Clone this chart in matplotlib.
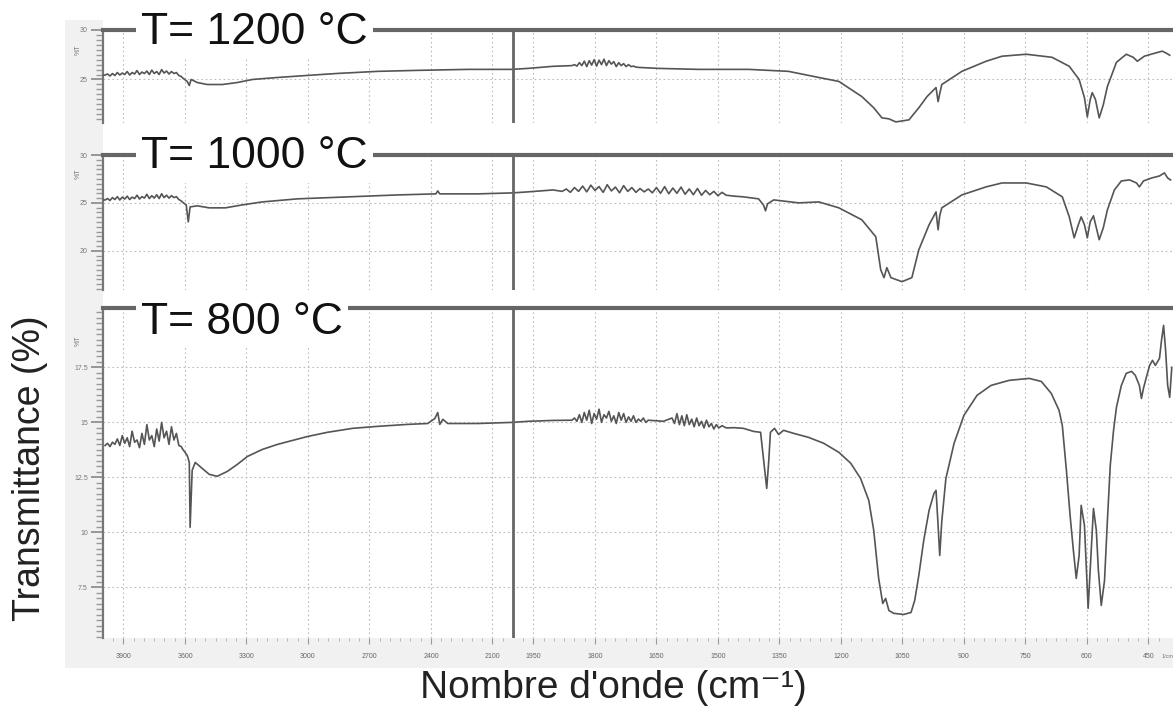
import numpy as np
import matplotlib.pyplot as plt
from matplotlib.ticker import FixedLocator, MultipleLocator
from matplotlib.patches import Rectangle

plt.rcParams['font.family'] = ['Liberation Sans', 'DejaVu Sans']

# wavenumber grids of the noisy stretches (cm-1)
wn_noise_left = [3990, 3978, 3966, 3954, 3942, 3930, 3918, 3906, 3894, 3882, 3870, 3858, 3846, 3834,
                 3822, 3810, 3798, 3786, 3774, 3762, 3750, 3738, 3726, 3714, 3702, 3690, 3678, 3666,
                 3654, 3642, 3630, 3618]
wn_noise_a = [1856, 1850, 1844, 1838, 1832, 1826, 1820, 1814, 1808, 1802, 1796, 1790, 1784, 1778,
              1772, 1766, 1760, 1754, 1748, 1742, 1736, 1730, 1724, 1718, 1712, 1706, 1700, 1694,
              1688, 1682, 1676, 1670]
wn_noise_b = [1612, 1606, 1600, 1594, 1588, 1582, 1576, 1570, 1564, 1558, 1552, 1546, 1540, 1534,
              1528, 1522, 1516, 1510, 1504, 1498, 1490, 1480]
wn_noise_1000 = [1880, 1870, 1860, 1850, 1840, 1830, 1820, 1810, 1800, 1790, 1780, 1770, 1760, 1750,
                 1740, 1730, 1720, 1710, 1700, 1690, 1680, 1670, 1660, 1650, 1640, 1630, 1620, 1610,
                 1600, 1590, 1580, 1570, 1560, 1550, 1540, 1530, 1520, 1510, 1500, 1490, 1480]

# T = 1200 C
wn_1200 = ([4000] + wn_noise_left +
           [3614, 3589, 3579, 3570, 3540, 3491, 3418, 3345, 3271, 3149, 3002, 2856, 2660, 2464,
            2220, 2005, 1963, 1902] + wn_noise_a[:27] +
           [1694, 1646, 1548, 1425, 1328, 1254, 1205, 1149, 1120, 1100, 1083, 1066, 1034, 1010,
            990, 973, 968, 963, 959, 954, 905, 846, 807, 748, 685, 643, 619, 606, 599, 592, 587,
            579, 570, 560, 550, 528, 504, 487, 477, 460, 435, 416, 406, 398])
t_1200 = ([25.41] +
          [25.45, 25.55, 25.35, 25.6, 25.4, 25.7, 25.45, 25.65, 25.5, 25.8, 25.45, 25.7, 25.55, 25.9,
           25.5, 25.75, 25.6, 25.85, 25.5, 25.95, 25.6, 25.8, 25.5, 26.0, 25.65, 25.85, 25.55, 25.8,
           25.6, 25.7, 25.4, 25.3] +
          [25.2, 24.8, 24.39, 25.0, 24.69, 24.49, 24.49, 24.69, 25.0, 25.2, 25.41, 25.61, 25.82, 25.92,
           26.02, 26.02, 26.12, 26.33] +
          [26.4, 26.5, 26.35, 26.7, 26.4, 26.85, 26.3, 26.9, 26.45, 27.0, 26.35, 26.95, 26.5, 27.05,
           26.4, 26.9, 26.55, 26.8, 26.3, 26.7, 26.4, 26.6, 26.3, 26.5, 26.3, 26.35, 26.25] +
          [26.22, 26.12, 26.02, 26.02, 25.82, 25.2, 24.8, 23.27, 22.14, 21.12, 21.02, 20.71, 20.92, 22.14,
           23.27, 23.98, 24.18, 22.76, 23.57, 24.49, 25.82, 26.84, 27.35, 27.55, 27.24, 26.33, 25.0, 23.16,
           21.22, 22.96, 23.67, 22.96, 21.12, 22.45, 24.29, 26.73, 27.55, 27.24, 26.84, 27.35, 27.65, 27.86,
           27.65, 27.45])

# T = 1000 C
wn_1000 = ([4000] + wn_noise_left +
           [3614, 3594, 3584, 3575, 3540, 3482, 3403, 3320, 3223, 3051, 2807, 2562, 2376, 2367,
            2357, 2171, 2005, 1963, 1902] + wn_noise_1000 +
           [1460, 1438, 1401, 1389, 1384, 1379, 1364, 1303, 1254, 1205] +
           [1149, 1115, 1103, 1095, 1088, 1078, 1051, 1027, 1010, 985, 968, 963, 959, 954, 905, 846,
            807, 748, 699, 660, 643, 631, 621, 614, 606, 599, 592, 584, 577, 570, 560, 550, 533, 516,
            496, 479, 472, 462, 442, 423, 411, 403, 396])
t_1000 = ([25.31] +
          [25.3, 25.45, 25.25, 25.55, 25.35, 25.65, 25.3, 25.6, 25.4, 25.7, 25.35, 25.6, 25.45, 25.8,
           25.4, 25.65, 25.5, 25.9, 25.45, 25.75, 25.5, 25.85, 25.45, 25.95, 25.55, 25.8, 25.5, 25.75,
           25.55, 25.65, 25.35, 25.2] +
          [25.1, 24.79, 23.02, 24.58, 24.69, 24.48, 24.48, 24.79, 25.1, 25.42, 25.63, 25.83, 25.94, 26.25,
           25.94, 25.94, 26.04, 26.15, 26.35] +
          [26.2, 26.45, 26.1, 26.6, 26.2, 26.75, 26.15, 26.85, 26.3, 26.7, 26.1, 26.9, 26.25, 26.65,
           26.05, 26.8, 26.2, 26.6, 26.1, 26.5, 26.15, 26.45, 26.05, 26.6, 26.0, 26.7, 25.95, 26.55,
           26.0, 26.65, 25.9, 26.45, 25.85, 26.5, 25.8, 26.3, 25.85, 26.2, 25.75, 26.1, 25.8] +
          [25.7, 25.63, 25.42, 24.79, 24.17, 24.9, 25.31, 25.0, 25.1, 24.48] +
          [23.23, 21.46, 18.02, 17.19, 18.23, 17.19, 16.77, 17.19, 20.1, 22.71, 24.06, 22.19, 23.65, 24.48,
           25.83, 26.67, 27.08, 27.08, 26.67, 25.63, 23.54, 21.35, 22.71, 23.54, 22.71, 21.35, 23.02, 23.65,
           22.4, 21.15, 22.4, 24.27, 26.35, 27.29, 27.4, 27.08, 26.67, 27.29, 27.6, 27.81, 28.13, 27.6, 27.4])

# T = 800 C
wn_800 = (wn_noise_left +
          [3614, 3589, 3579, 3575, 3565, 3550, 3516, 3482, 3443, 3394, 3345, 3296, 3223, 3149, 3076,
           3002, 2905, 2782, 2660, 2513, 2416, 2381, 2367, 2357, 2342, 2318, 2171, 2005, 1963, 1902] +
          wn_noise_a + [1633] + wn_noise_b +
          [1460, 1438, 1413, 1396, 1386, 1381, 1376, 1372, 1362, 1352, 1340, 1315, 1279, 1242, 1205] +
          [1176, 1152, 1132, 1120, 1108, 1098, 1091, 1083, 1071, 1047, 1029, 1020, 1010, 998, 985, 973,
           968, 963, 959, 954, 944, 924, 900, 868, 834, 790, 741, 711, 687, 668, 660, 650, 641, 633, 626,
           619, 614, 606, 601, 597, 592, 584, 577, 572, 565, 557, 550, 543, 535, 528, 516, 504, 491, 482,
           472, 467, 462, 455, 447, 440, 433, 423, 418, 413, 408, 403, 398, 393])
t_800 = ([13.95, 14.05, 13.9, 14.1, 14.0, 14.25, 13.95, 14.4, 14.05, 14.3, 13.9, 14.6, 14.1, 14.2,
          13.85, 14.5, 14.0, 14.9, 14.2, 14.4, 13.9, 14.7, 14.15, 15.0, 14.3, 14.6, 14.0, 14.8,
          14.2, 14.5, 13.95, 13.9] +
         [13.82, 13.5, 13.18, 10.23, 12.82, 13.18, 12.91, 12.64, 12.55, 12.77, 13.09, 13.45, 13.77, 14.0,
          14.18, 14.36, 14.55, 14.73, 14.82, 14.91, 14.95, 15.18, 15.45, 14.91, 15.14, 14.95, 14.95, 15.0,
          15.05, 15.09] +
         [15.1, 15.2, 15.05, 15.35, 15.0, 15.45, 15.1, 15.55, 14.95, 15.4, 15.15, 15.6, 15.0, 15.35,
          15.2, 15.5, 15.05, 15.3, 14.95, 15.45, 15.1, 15.4, 15.0, 15.25, 15.05, 15.3, 15.0, 15.15,
          15.05, 15.2, 15.0, 15.1] +
         [15.05] +
         [15.2, 14.95, 15.4, 14.9, 15.3, 14.85, 15.35, 14.9, 15.15, 14.8, 15.2, 14.85, 15.05, 14.75,
          15.1, 14.8, 14.95, 14.7, 14.9, 14.75, 14.85, 14.75] +
         [14.76, 14.73, 14.59, 14.55, 12.82, 12.0, 13.27, 14.55, 14.73, 14.45, 14.64, 14.5, 14.32, 14.05,
          13.64] +
         [13.14, 12.45, 11.45, 10.09, 7.91, 6.77, 7.0, 6.45, 6.32, 6.27, 6.36, 6.91, 8.05, 9.64, 11.0,
          11.77, 11.91, 10.32, 8.95, 10.5, 12.45, 14.05, 15.32, 16.23, 16.68, 16.91, 17.0, 16.86, 16.32,
          15.55, 14.86, 12.82, 10.77, 9.18, 7.91, 8.95, 11.23, 10.32, 8.27, 6.55, 8.27, 11.09, 10.09, 8.27,
          6.68, 7.82, 10.55, 13.05, 14.64, 15.68, 16.68, 17.23, 17.32, 17.14, 16.68, 16.09, 16.55, 17.05,
          17.59, 17.82, 17.59, 17.91, 18.73, 19.41, 18.27, 16.68, 16.14, 17.5])

titles = ["T= 1200 \u00b0C", "T= 1000 \u00b0C", "T= 800 \u00b0C"]
x_ticks = [3900, 3600, 3300, 3000, 2700, 2400, 2100, 1950, 1800, 1650, 1500, 1350,
           1200, 1050, 900, 750, 600, 450]
y_ticks_1200 = [25, 30]
y_ticks_1000 = [20, 25, 30]
y_ticks_800 = [7.5, 10, 12.5, 15, 17.5]

W, H = 1173, 710


def fwd(w):
    w = np.asarray(w, dtype=float)
    return np.where(w <= 2000, w, 2000 + (w - 2000) / 2)


def inv(u):
    u = np.asarray(u, dtype=float)
    return np.where(u <= 2000, u, 2000 + (u - 2000) * 2)


fig = plt.figure(figsize=(W / 100, H / 100), dpi=100)

# grey frame around the instrument plot
fig.patches.append(Rectangle((65 / W, 1 - 668 / H), 38 / W, 648 / H, transform=fig.transFigure,
                             fc='#f1f1f1', ec='none', zorder=-5))
fig.patches.append(Rectangle((65 / W, 1 - 668 / H), 1108 / W, 30 / H, transform=fig.transFigure,
                             fc='#f1f1f1', ec='none', zorder=-5))

panels = [
    # (top px, bottom px, ylim, ticks, minor, data, title, title y px, %T value)
    (30, 123, (20.6, 30), y_ticks_1200, 0.5, wn_1200, t_1200, titles[0], 32, 28.0),
    (155, 290, (15.9, 30), y_ticks_1000, 0.5, wn_1000, t_1000, titles[1], 157, 28.0),
    (308, 638, (5.2, 20.2), y_ticks_800, 0.25, wn_800, t_800, titles[2], 322, 18.7),
]

left = 103
for i, (top, bot, ylim, yt, ymin, wn, tt, title, ty, pct) in enumerate(panels):
    ax = fig.add_axes([left / W, 1 - bot / H, (W - left) / W, (bot - top) / H])
    ax.set_xscale('function', functions=(fwd, inv))
    ax.set_xlim(4000, 390)
    ax.set_ylim(*ylim)
    ax.plot(wn, tt, color='#555555', lw=1.2, zorder=3)
    ax.axvline(2000, color='#666666', lw=2, zorder=4)

    ax.xaxis.set_major_locator(FixedLocator(x_ticks))
    ax.xaxis.set_minor_locator(FixedLocator(list(range(3950, 2000, -50)) + list(range(1975, 400, -25))))
    ax.yaxis.set_major_locator(FixedLocator(yt))
    ax.yaxis.set_minor_locator(MultipleLocator(ymin))
    ax.grid(which='major', ls=(0, (1.5, 2.5)), color='#bbbbbb', lw=0.8)

    for s in ['right', 'bottom']:
        ax.spines[s].set_visible(False)
    ax.spines['top'].set_color('#666666')
    ax.spines['top'].set_linewidth(3)
    ax.spines['left'].set_color('#777777')
    ax.spines['left'].set_linewidth(1.6)

    ax.tick_params(axis='y', which='major', length=9, width=1.2, color='#888888',
                   labelsize=5, labelcolor='#777777', pad=2)
    ax.tick_params(axis='y', which='minor', length=5, width=1.0, color='#999999')
    ax.set_yticklabels([('%g' % v) for v in yt])
    ax.text(-0.023, pct, '%T', transform=ax.get_yaxis_transform(), rotation=90,
            fontsize=5, color='#777777', ha='center', va='center')

    if i < 2:
        ax.tick_params(axis='x', which='both', length=0, labelbottom=False)
    else:
        ax.tick_params(axis='x', which='major', length=4, color='#999999',
                       labelsize=5, labelcolor='#666666', pad=7)
        ax.tick_params(axis='x', which='minor', length=2, color='#aaaaaa')
        ax.text(1.0, -0.05, '1/cm', transform=ax.transAxes, fontsize=4,
                color='#777777', ha='right', va='top')

    fig.text(141 / W, 1 - ty / H, title, fontsize=32, color='#111111', ha='left', va='center',
             bbox=dict(fc='white', ec='none', pad=4))

fig.text(30 / W, 1 - 468 / H, 'Transmittance (%)', rotation=90, fontsize=27,
         ha='center', va='center', color='#222222')
fig.text(613 / W, 1 - 688 / H, "Nombre d'onde (cm\u207b\u00b9)", fontsize=28,
         ha='center', va='center', color='#222222')

fig.savefig('out.png', dpi=100)
